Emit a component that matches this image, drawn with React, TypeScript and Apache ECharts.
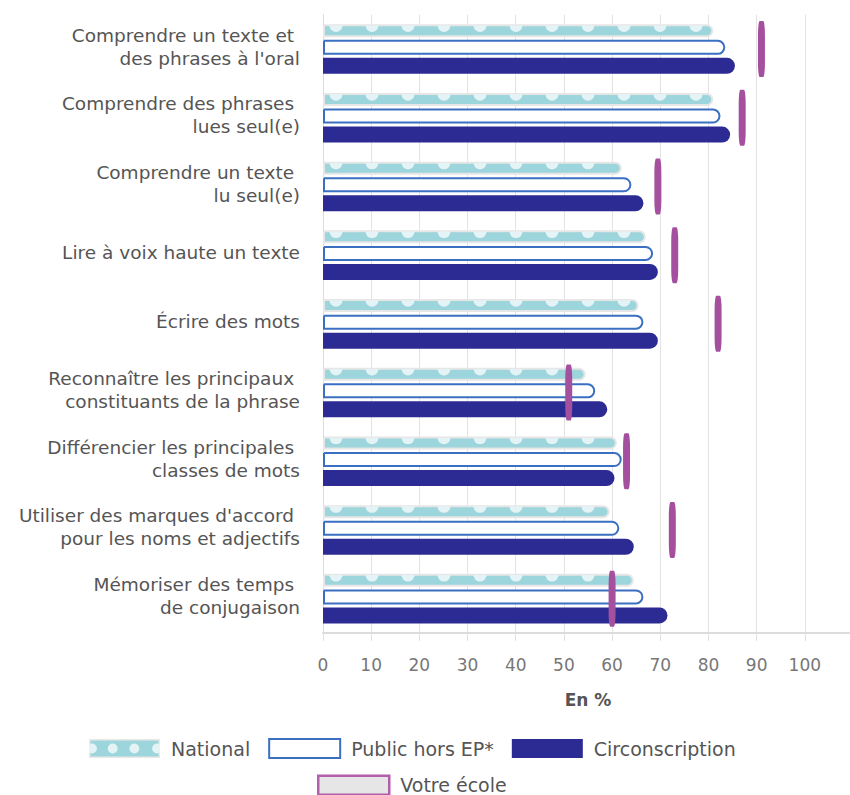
import React, { useEffect, useRef } from "react";
import * as echarts from "echarts";

const categories = [
  "Comprendre un texte et \ndes phrases à l'oral",
  "Comprendre des phrases \nlues seul(e)",
  "Comprendre un texte \nlu seul(e)",
  "Lire à voix haute un texte",
  "Écrire des mots",
  "Reconnaître les principaux \nconstituants de la phrase",
  "Différencier les principales \nclasses de mots",
  "Utiliser des marques d'accord \npour les noms et adjectifs",
  "Mémoriser des temps \nde conjugaison",
];

const national = [81, 81, 62, 67, 65.5, 54.5, 61, 59.5, 64.5];
const publicHorsEP = [83.5, 82.5, 64, 68.5, 66.5, 56.5, 62, 61.5, 66.5];
const circonscription = [85.5, 84.5, 66.5, 69.5, 69.5, 59, 60.5, 64.5, 71.5];
const votreEcole = [91, 87, 69.5, 73, 82, 51, 63, 72.5, 60];

const xTicks = [0, 10, 20, 30, 40, 50, 60, 70, 80, 90, 100];

const FONT = "'DejaVu Sans', 'Open Sans', sans-serif";
const TEAL = "#9dd5dc";
const DOT = "#e4f3f5";
const RIM = "#e6e6e6";
const BLUE = "#3b6fc2";
const NAVY = "#2c2a93";
const MAGENTA = "#a5509f";

const nationalIconSvg =
  "<svg xmlns='http://www.w3.org/2000/svg' width='72' height='19'>" +
  "<rect width='72' height='19' fill='#e8e8e8'/>" +
  "<rect x='1.5' y='1.5' width='69' height='16' fill='" + TEAL + "'/>" +
  "<circle cx='3' cy='9.5' r='5' fill='" + DOT + "'/>" +
  "<circle cx='24' cy='9.5' r='5' fill='" + DOT + "'/>" +
  "<circle cx='46' cy='9.5' r='5' fill='" + DOT + "'/>" +
  "<circle cx='69' cy='9.5' r='5' fill='" + DOT + "'/>" +
  "</svg>";
const nationalIcon = "image://data:image/svg+xml;charset=utf-8," + encodeURIComponent(nationalIconSvg);

export default function App() {
  const ref = useRef<HTMLDivElement>(null);

  useEffect(() => {
    if (!ref.current) return;
    const chart = echarts.init(ref.current, undefined, { renderer: "svg" });

    const option: any = {
      animation: false,
      backgroundColor: "#ffffff",
      textStyle: { fontFamily: FONT },
      grid: { left: 323, width: 530, top: 14.7, bottom: 162, outerBoundsMode: "none", containLabel: false },
      xAxis: {
        type: "value",
        min: 0,
        max: 110,
        interval: 10,
        name: "En %",
        nameLocation: "middle",
        nameGap: 58,
        nameTextStyle: { fontSize: 17, fontWeight: "bold", color: "#555", fontFamily: FONT },
        axisLine: { show: true, lineStyle: { color: "#dcdcdc", width: 2 } },
        axisTick: { show: true, length: 8, lineStyle: { color: "#e0e0e0" } },
        splitLine: { show: true, lineStyle: { color: "#e3e3e3", width: 1 } },
        axisLabel: {
          fontSize: 17,
          color: "#777",
          margin: 23,
          fontFamily: FONT,
          formatter: (v: number) => (xTicks.indexOf(v) >= 0 ? String(v) : ""),
        },
      },
      yAxis: {
        type: "category",
        inverse: true,
        data: categories,
        axisLine: { show: true, lineStyle: { color: "#dcdcdc", width: 1 } },
        axisTick: { show: false },
        axisLabel: {
          margin: 23,
          align: "right",
          formatter: (v: string) =>
            v
              .split("\n")
              .map((l) => "{t|" + l + "}")
              .join("\n") + "\n{s| }",
          rich: {
            t: { fontSize: 18.5, lineHeight: 23, color: "#555", fontFamily: FONT, align: "right" },
            s: { fontSize: 1, lineHeight: 5, fontFamily: FONT },
          },
        },
      },
      legend: [
        {
          left: 89,
          top: 738,
          padding: 0,
          itemWidth: 71,
          itemHeight: 19,
          itemGap: 18,
          icon: "rect",
          selectedMode: false,
          textStyle: { fontSize: 19, color: "#555", fontFamily: FONT, padding: [0, 0, 0, 6] },
          data: [
            { name: "National", icon: nationalIcon },
            {
              name: "Public hors EP*",
              icon: "rect",
              itemStyle: { color: "#ffffff", borderColor: BLUE, borderWidth: 2 },
            },
            { name: "Circonscription", icon: "rect", itemStyle: { color: NAVY, borderWidth: 0 } },
          ],
        },
        {
          left: 317,
          top: 774.5,
          padding: 0,
          itemWidth: 71,
          itemHeight: 19,
          icon: "rect",
          selectedMode: false,
          textStyle: { fontSize: 19, color: "#555", fontFamily: FONT, padding: [0, 0, 0, 6] },
          data: [
            {
              name: "Votre école",
              icon: "rect",
              itemStyle: { color: "#e6e6e6", borderColor: "#b45fad", borderWidth: 2.5 },
            },
          ],
        },
      ],
      series: [
        {
          name: "National",
          type: "bar",
          data: national,
          barWidth: 13,
          barGap: "20%",
          itemStyle: { color: TEAL, borderColor: RIM, borderWidth: 2, borderRadius: [0, 7, 7, 0] },
        },
        {
          name: "Public hors EP*",
          type: "bar",
          data: publicHorsEP,
          barWidth: 15,
          barGap: "20%",
          itemStyle: { color: "#ffffff", borderColor: BLUE, borderWidth: 2, borderRadius: [0, 7, 7, 0] },
        },
        {
          name: "Circonscription",
          type: "bar",
          data: circonscription,
          barWidth: 16,
          barGap: "20%",
          itemStyle: { color: NAVY, borderRadius: [0, 8, 8, 0] },
        },
        {
          name: "NationalDots",
          type: "custom",
          silent: true,
          encode: { x: 0, y: 1 },
          data: national.map((v, i) => [v, i]),
          renderItem: (params: any, api: any) => {
            const v = api.value(0);
            const i = api.value(1);
            const start = api.coord([0, i]);
            const end = api.coord([v, i]);
            const top = start[1] - 24.8 + 1.2;
            const children: any[] = [];
            for (let x = start[0] + 13; x + 6 <= end[0] - 8; x += 36) {
              children.push({
                type: "sector",
                shape: { cx: x, cy: top, r0: 0, r: 6.5, startAngle: 0, endAngle: Math.PI, clockwise: true },
                style: { fill: DOT },
              });
            }
            return { type: "group", children };
          },
          z: 3,
        },
        {
          name: "Votre école",
          type: "scatter",
          data: votreEcole.map((v, i) => [v, i]),
          symbol: "roundRect",
          symbolSize: [7, 56],
          itemStyle: { color: MAGENTA, opacity: 1 },
          z: 5,
        },
      ],
    };

    chart.setOption(option);
    return () => chart.dispose();
  }, []);

  return (
    <div
      ref={ref}
      style={{ position: "absolute", left: 0, top: 0, width: 850, height: 795, background: "#fff" }}
    />
  );
}
